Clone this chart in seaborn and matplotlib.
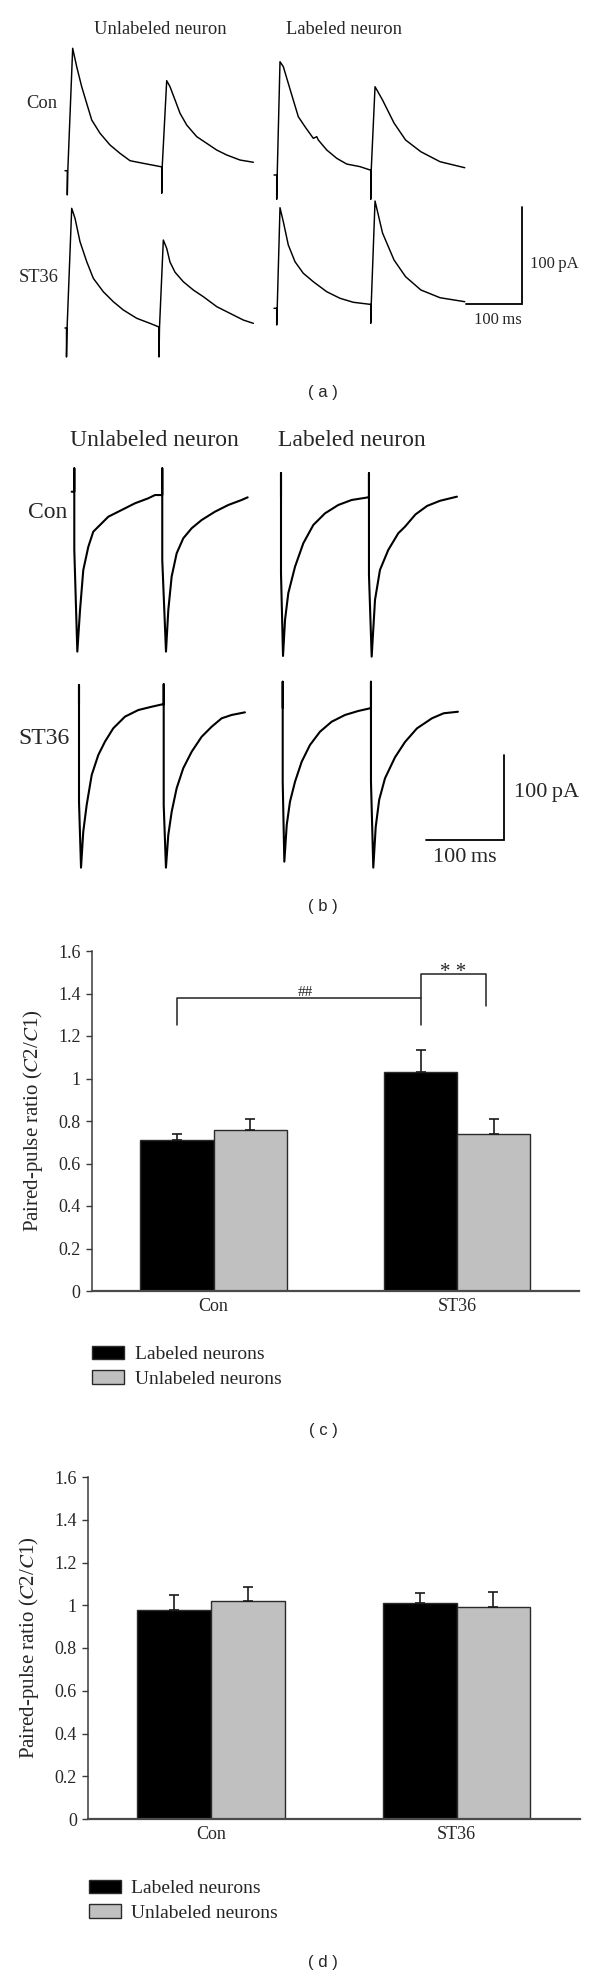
import numpy as np
import pandas as pd
import matplotlib
matplotlib.use("Agg")
import matplotlib.pyplot as plt
import seaborn as sns

# ---------------- data ----------------
# Panel (a): paired-pulse evoked currents; t in ms from 1st stimulus, i in pA from baseline
a_con_unl_t = [-4.1, 0, 0, 0.9, 9.6, 16.8, 25.7, 34.6, 43.6, 58.4, 76.3, 94.1, 112.0, 135.7, 167.3,
               168.6, 168.6, 169.5, 177.5, 183.4, 192.4, 201.3, 213.2, 231.1, 249.0, 266.8, 284.7, 308.4, 332.2]
a_con_unl_i = [0, 0, -25.0, 0, 126.2, 107.2, 86.6, 69.5, 52.3, 38.6, 26.5, 17.9, 10.3, 7.6, 4.1,
               4.1, -23.3, 4.1, 92.8, 86.6, 72.9, 59.2, 47.1, 35.1, 28.2, 21.3, 16.2, 11.0, 8.7]
a_con_lab_t = [-4.8, 0, 0, 0.9, 5.9, 11.8, 20.7, 29.6, 38.6, 50.5, 65.4, 71.5, 74.3, 89.3, 107.2, 125.0,
               148.8, 166.6, 167.9, 167.9, 168.8, 175.6, 189.0, 209.5, 230.1, 257.4, 291.7, 335.8]
a_con_lab_i = [0, 0, -25.1, 0, 116.8, 111.7, 94.5, 77.3, 60.1, 49.8, 37.8, 39.5, 36.1, 25.8, 17.2, 11.3,
               8.6, 5.2, 5.2, -25.1, 5.2, 91.0, 77.3, 53.6, 36.1, 24.0, 13.7, 7.5]
a_st_unl_t = [-2.7, 0, 0, 0.9, 9.3, 15.2, 24.1, 36.1, 47.9, 65.7, 83.6, 101.4, 125.4, 149.1, 164.0,
              165.2, 165.2, 166.1, 172.9, 179.0, 184.8, 193.8, 208.6, 226.4, 244.3, 268.3, 292.0, 315.8, 333.7]
a_st_unl_i = [0, 0, -29.9, -2.1, 123.4, 113.1, 89.0, 68.4, 51.2, 37.4, 27.1, 18.6, 10.0, 4.8, 1.3,
              1.0, -29.9, 1.0, 90.7, 82.0, 68.0, 57.5, 47.7, 39.2, 32.3, 22.0, 15.1, 8.2, 4.8]
a_st_lab_t = [-4.8, 0, 0, 0.9, 5.9, 11.8, 20.7, 32.7, 47.5, 65.4, 89.3, 113.1, 136.8, 166.6,
              167.9, 167.9, 168.8, 175.6, 189.0, 209.5, 230.1, 257.4, 291.7, 335.8]
a_st_lab_i = [0, 0, -17.2, 0, 103.7, 89.3, 65.3, 48.0, 36.1, 27.4, 17.1, 10.3, 6.2, 4.1,
              4.1, -15.5, 4.1, 110.6, 77.6, 49.8, 32.6, 18.9, 10.9, 6.8]

# Panel (b)
b_con_unl_t = [-3.4, 0, 0, 0, 3.9, 7.4, 11.6, 18.1, 24.5, 33.2, 43.9, 61.1, 78.3, 95.5, 104.1, 111.8,
               113.5, 113.5, 113.5, 118.3, 121.3, 125.6, 132.1, 140.6, 151.4, 164.3, 181.5, 198.7, 216.0, 223.7]
b_con_unl_i = [1.5, 1.5, 29.0, -67.0, -186.6, -137.6, -90.6, -63.2, -45.5, -37.6, -27.9, -20.0, -12.1, -6.2, -2.4, -2.4,
               -2.4, 29.0, -78.8, -186.6, -137.6, -98.4, -70.9, -53.3, -41.5, -31.8, -22.0, -14.1, -8.2, -5.1]
b_con_lab_t = [0, 0, 0, 2.6, 5.2, 9.4, 18.1, 28.8, 41.7, 56.8, 73.9, 91.2, 112.6,
               113.5, 113.5, 113.5, 117.0, 121.3, 127.7, 138.4, 151.3, 160.0, 173.5, 188.5, 205.0, 227.0]
b_con_lab_i = [0, 27.9, -89.7, -187.0, -144.6, -113.2, -82.0, -54.4, -32.9, -19.2, -9.4, -3.5, -0.4,
               -0.4, 27.9, -91.7, -187.8, -121.1, -85.8, -62.3, -42.7, -34.9, -20.5, -10.5, -4.5, 0.4]
b_st_unl_t = [0, 0, 0, 2.6, 5.5, 9.9, 16.4, 24.9, 33.5, 44.2, 59.3, 76.5, 93.8, 107.5,
              109.3, 109.3, 109.3, 112.2, 115.2, 119.6, 126.0, 134.5, 145.4, 158.3, 171.2, 184.1, 197.0, 214.1]
b_st_unl_i = [0, 22.3, -114.9, -192.5, -150.2, -118.8, -83.5, -60.0, -44.3, -28.6, -14.9, -7.1, -3.2, -0.4,
              -0.4, 23.2, -118.8, -192.5, -154.1, -126.7, -99.1, -75.6, -56.1, -38.5, -26.7, -16.8, -12.9, -9.8]
b_st_lab_t = [0, 0, 0, 2.1, 5.2, 9.4, 15.9, 24.5, 35.2, 48.1, 63.2, 80.4, 97.5, 112.6,
              113.9, 113.9, 113.9, 116.9, 120.0, 124.5, 132.0, 144.9, 157.8, 173.2, 192.6, 207.7, 226.1]
b_st_lab_i = [0, 30.9, -86.7, -180.8, -137.6, -110.2, -86.7, -63.2, -43.5, -27.9, -16.1, -8.2, -3.5, -0.4,
              -0.4, 30.9, -86.7, -187.8, -140.0, -108.0, -82.7, -58.0, -40.0, -24.0, -12.1, -6.2, -4.4]

scale_ms = 100
scale_pA = 100

# Panels (c), (d): paired-pulse ratio
groups = ["Con", "ST36"]
series = ["Labeled neurons", "Unlabeled neurons"]
c_labeled = [0.71, 1.03]
c_unlabeled = [0.76, 0.74]
c_labeled_sem = [0.03, 0.105]
c_unlabeled_sem = [0.05, 0.07]
d_labeled = [0.98, 1.01]
d_unlabeled = [1.02, 0.99]
d_labeled_sem = [0.07, 0.047]
d_unlabeled_sem = [0.065, 0.07]
yticks = [0, 0.2, 0.4, 0.6, 0.8, 1, 1.2, 1.4, 1.6]
ytick_labels = ["0", "0.2", "0.4", "0.6", "0.8", "1", "1.2", "1.4", "1.6"]
ylabel = "Paired-pulse ratio ($C$2/$C$1)"

# ---------------- style ----------------
sns.set_theme(style="white")
plt.rcParams["font.family"] = ["Liberation Serif", "DejaVu Serif"]
plt.rcParams["mathtext.fontset"] = "stix"

W, H = 600, 1980
fig = plt.figure(figsize=(W / 100, H / 100), dpi=100)
SANS = ["Liberation Sans", "DejaVu Sans"]


def px_axes(x0, y0, x1, y1):
    return fig.add_axes([x0 / W, 1 - y1 / H, (x1 - x0) / W, (y1 - y0) / H])


def ftext(x, y, s, **kw):
    fig.text(x / W, 1 - y / H, s, **kw)


def trace_panel(box, origin, px_ms, px_pA, traces, bar_corner, lw):
    bx0, by0, bx1, by1 = box
    ox, oy = origin
    ax = px_axes(bx0, by0, bx1, by1)
    ax.set_xlim((bx0 - ox) / px_ms, (bx1 - ox) / px_ms)
    ax.set_ylim((oy - by1) / px_pA, (oy - by0) / px_pA)
    for t, i, (sx, sy) in traces:
        dx = (sx - ox) / px_ms
        dy = (oy - sy) / px_pA
        sns.lineplot(x=np.asarray(t) + dx, y=np.asarray(i) + dy, sort=False, estimator=None,
                     color="black", linewidth=lw, ax=ax, solid_joinstyle="round")
    cx = (bar_corner[0] - ox) / px_ms
    cy = (oy - bar_corner[1]) / px_pA
    ax.plot([cx - scale_ms, cx, cx], [cy, cy, cy + scale_pA], color="black", lw=1.3,
            solid_joinstyle="miter")
    ax.axis("off")
    return ax


# ---- (a)
trace_panel((0, 0, 600, 380), (67.3, 170.7), 0.56, 0.97,
            [(a_con_unl_t, a_con_unl_i, (67.3, 170.7)),
             (a_con_lab_t, a_con_lab_i, (276.7, 175.0)),
             (a_st_unl_t, a_st_unl_i, (66.5, 328.0)),
             (a_st_lab_t, a_st_lab_i, (276.7, 308.3))],
            (522, 304), 1.05)
ftext(160, 30, "Unlabeled neuron", fontsize=13.3, ha="center", va="center")
ftext(344, 30, "Labeled neuron", fontsize=13.3, ha="center", va="center")
ftext(42, 103, "Con", fontsize=13.3, ha="center", va="center")
ftext(39, 277, "ST36", fontsize=13.3, ha="center", va="center")
ftext(530, 264, "100\u2009pA", fontsize=12, ha="left", va="center")
ftext(498, 320, "100\u2009ms", fontsize=12, ha="center", va="center")
ftext(323, 392, "( a )", fontsize=12, ha="center", va="center", family=SANS)

# ---- (b)
trace_panel((0, 420, 600, 880), (74.3, 493.0), 0.775, 0.85,
            [(b_con_unl_t, b_con_unl_i, (74.3, 493.0)),
             (b_con_lab_t, b_con_lab_i, (281.0, 497.0)),
             (b_st_unl_t, b_st_unl_i, (79.0, 704.0)),
             (b_st_lab_t, b_st_lab_i, (282.7, 708.0))],
            (504, 840), 1.5)
ftext(154, 440, "Unlabeled neuron", fontsize=17, ha="center", va="center")
ftext(352, 440, "Labeled neuron", fontsize=17, ha="center", va="center")
ftext(48, 512, "Con", fontsize=17, ha="center", va="center")
ftext(44, 738, "ST36", fontsize=17, ha="center", va="center")
ftext(514.5, 793, "100\u2009pA", fontsize=16, ha="left", va="center")
ftext(465, 858, "100\u2009ms", fontsize=16, ha="center", va="center")
ftext(323, 907, "( b )", fontsize=12, ha="center", va="center", family=SANS)


# ---- bar panels
def bar_panel(box, lab, unl, lab_err, unl_err, legend_xy):
    ax = px_axes(*box)
    df = pd.DataFrame({"group": groups * 2,
                       "neuron": [series[0]] * 2 + [series[1]] * 2,
                       "ratio": list(lab) + list(unl)})
    sns.barplot(data=df, x="group", y="ratio", hue="neuron", order=groups, hue_order=series,
                palette=["#000000", "#c0c0c0"], saturation=1, width=0.6, errorbar=None,
                edgecolor="#2a2a2a", linewidth=1.0, ax=ax)
    errs = [lab_err, unl_err]
    for p in ax.patches:
        h = p.get_height()
        if not np.isfinite(h) or h <= 0:
            continue
        xc = p.get_x() + p.get_width() / 2
        gi = int(round(xc))
        hi = 0 if xc < gi else 1
        ax.errorbar([xc], [h], yerr=[[0], [errs[hi][gi]]], fmt="none", ecolor="#1a1a1a",
                    elinewidth=1.2, capsize=3.4, capthick=1.2, zorder=3)
    ax.set_xlim(-0.5, 1.5)
    ax.set_ylim(0, 1.6)
    ax.set_yticks(yticks)
    ax.set_yticklabels(ytick_labels)
    ax.set_xlabel("")
    ax.set_ylabel(ylabel, fontsize=15)
    ax.yaxis.set_label_coords(-0.095, 0.5)
    sns.despine(ax=ax)
    ax.spines["left"].set_color("#3a3a3a")
    ax.spines["left"].set_linewidth(1.1)
    ax.spines["bottom"].set_color("#4a4a4a")
    ax.spines["bottom"].set_linewidth(1.6)
    ax.tick_params(axis="y", left=True, length=4, width=1.0, color="#3a3a3a", pad=4, labelsize=13)
    ax.tick_params(axis="x", bottom=False, length=0, pad=5, labelsize=13)
    handles, labels = ax.get_legend_handles_labels()
    ax.legend(handles, labels, loc="upper left",
              bbox_to_anchor=(legend_xy[0] / W, 1 - legend_xy[1] / H),
              bbox_transform=fig.transFigure, frameon=False, fontsize=14,
              handlelength=1.65, handleheight=0.68, handletextpad=0.55,
              labelspacing=0.35, borderpad=0, borderaxespad=0)
    return ax


axc = bar_panel((91.7, 951, 579, 1291), c_labeled, c_unlabeled, c_labeled_sem, c_unlabeled_sem,
                (91.8, 1346))
# significance brackets
axc.plot([-0.15, -0.15, 0.85, 0.85], [1.252, 1.379, 1.379, 1.252], color="#222222", lw=1.1)
axc.plot([0.85, 0.85, 1.12, 1.12], [1.379, 1.492, 1.492, 1.341], color="#222222", lw=1.1)
axc.text(0.378, 1.39, "##", fontsize=11, ha="center", va="baseline")
axc.text(0.985, 1.478, "* *", fontsize=15, ha="center", va="baseline")
ftext(323, 1430, "( c )", fontsize=12, ha="center", va="center", family=SANS)

bar_panel((88, 1477, 579.5, 1819), d_labeled, d_unlabeled, d_labeled_sem, d_unlabeled_sem,
          (88.7, 1880))
ftext(323, 1963, "( d )", fontsize=12, ha="center", va="center", family=SANS)

fig.savefig("out.png", dpi=100, facecolor="white")
